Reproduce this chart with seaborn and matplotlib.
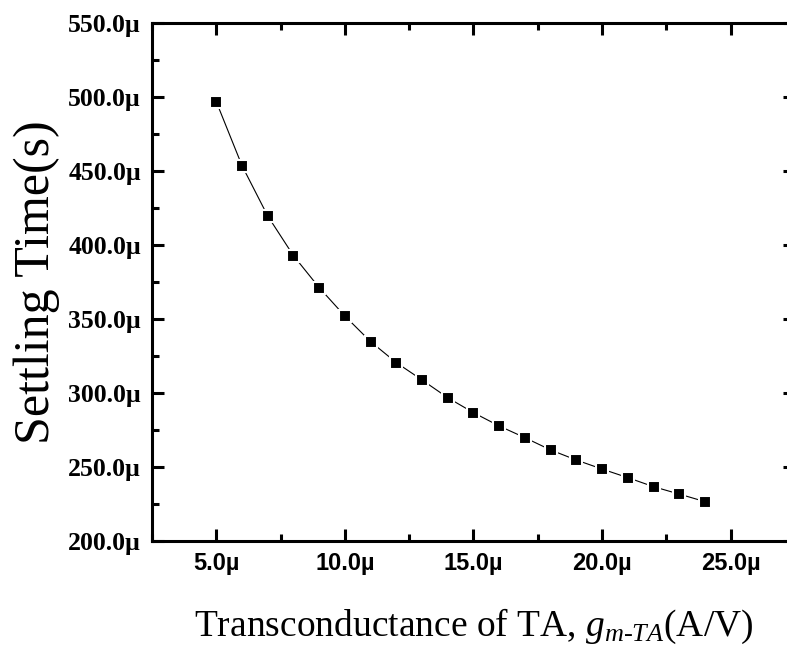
import matplotlib
matplotlib.use("Agg")
import matplotlib.pyplot as plt
import seaborn as sns
import pandas as pd
from matplotlib.ticker import MultipleLocator, FuncFormatter

# Data (units: micro)
gm_uA = [5, 6, 7, 8, 9, 10, 11, 12, 13, 14, 15, 16, 17, 18, 19, 20, 21, 22, 23, 24]
settle_us = [496.6, 453.4, 419.4, 392.6, 371.0, 351.8, 334.5, 320.3, 308.6, 296.6,
             286.5, 277.5, 269.6, 261.3, 254.5, 248.4, 242.6, 236.5, 231.5, 226.4]
x_label = r"Transconductance of TA, $g_{m\text{-}TA}$(A/V)"
y_label = "Settling Time(s)"

df = pd.DataFrame({"gm": gm_uA, "ts": settle_us})

sns.set_theme(style="ticks")
plt.rcParams["font.family"] = ["Liberation Serif", "DejaVu Serif"]
plt.rcParams["mathtext.fontset"] = "custom"
plt.rcParams["mathtext.rm"] = "Liberation Serif"
plt.rcParams["mathtext.it"] = "Liberation Serif:italic"
plt.rcParams["mathtext.bf"] = "Liberation Serif:bold"
plt.rcParams["text.color"] = "black"
plt.rcParams["axes.labelcolor"] = "black"
plt.rcParams["xtick.color"] = "black"
plt.rcParams["ytick.color"] = "black"
plt.rcParams["axes.edgecolor"] = "black"

fig = plt.figure(figsize=(7.87, 6.5), dpi=100)
ax = fig.add_axes([152 / 787, (650 - 540.7) / 650, (795 - 152) / 787, (540.7 - 22.7) / 650])

sns.lineplot(data=df, x="gm", y="ts", ax=ax, color="black", linewidth=0.8,
             marker="s", markersize=9, markerfacecolor="black",
             markeredgecolor="white", markeredgewidth=1.5)

ax.set_xlim(2.5, 27.5)
ax.set_ylim(200, 550)
ax.xaxis.set_major_locator(MultipleLocator(5))
ax.xaxis.set_minor_locator(MultipleLocator(2.5))
ax.yaxis.set_major_locator(MultipleLocator(50))
ax.yaxis.set_minor_locator(MultipleLocator(25))
fmt = FuncFormatter(lambda v, p: f"{v:.1f}\u00b5")
ax.xaxis.set_major_formatter(fmt)
ax.yaxis.set_major_formatter(fmt)

for sp in ax.spines.values():
    sp.set_linewidth(2.2)
    sp.set_color("black")
    sp.set_visible(True)

ax.tick_params(which="both", direction="in", top=True, right=True, width=2.2,
               color="black", labelcolor="black")
ax.tick_params(which="major", length=8.5)
ax.tick_params(which="minor", length=5)
ax.tick_params(axis="x", which="major", pad=8)
ax.tick_params(axis="y", which="major", pad=8)

for lab in ax.get_xticklabels():
    lab.set_fontfamily("Liberation Sans")
    lab.set_fontweight("bold")
    lab.set_fontsize(17)
for lab in ax.get_yticklabels():
    lab.set_fontfamily("Liberation Serif")
    lab.set_fontweight("bold")
    lab.set_fontsize(18.5)

ax.set_xlabel(x_label, fontsize=27, fontfamily="Liberation Serif", labelpad=23, color="black")
ax.set_ylabel(y_label, fontsize=36, fontfamily="Liberation Serif", labelpad=6, color="black")

fig.savefig("out.png", dpi=100)
